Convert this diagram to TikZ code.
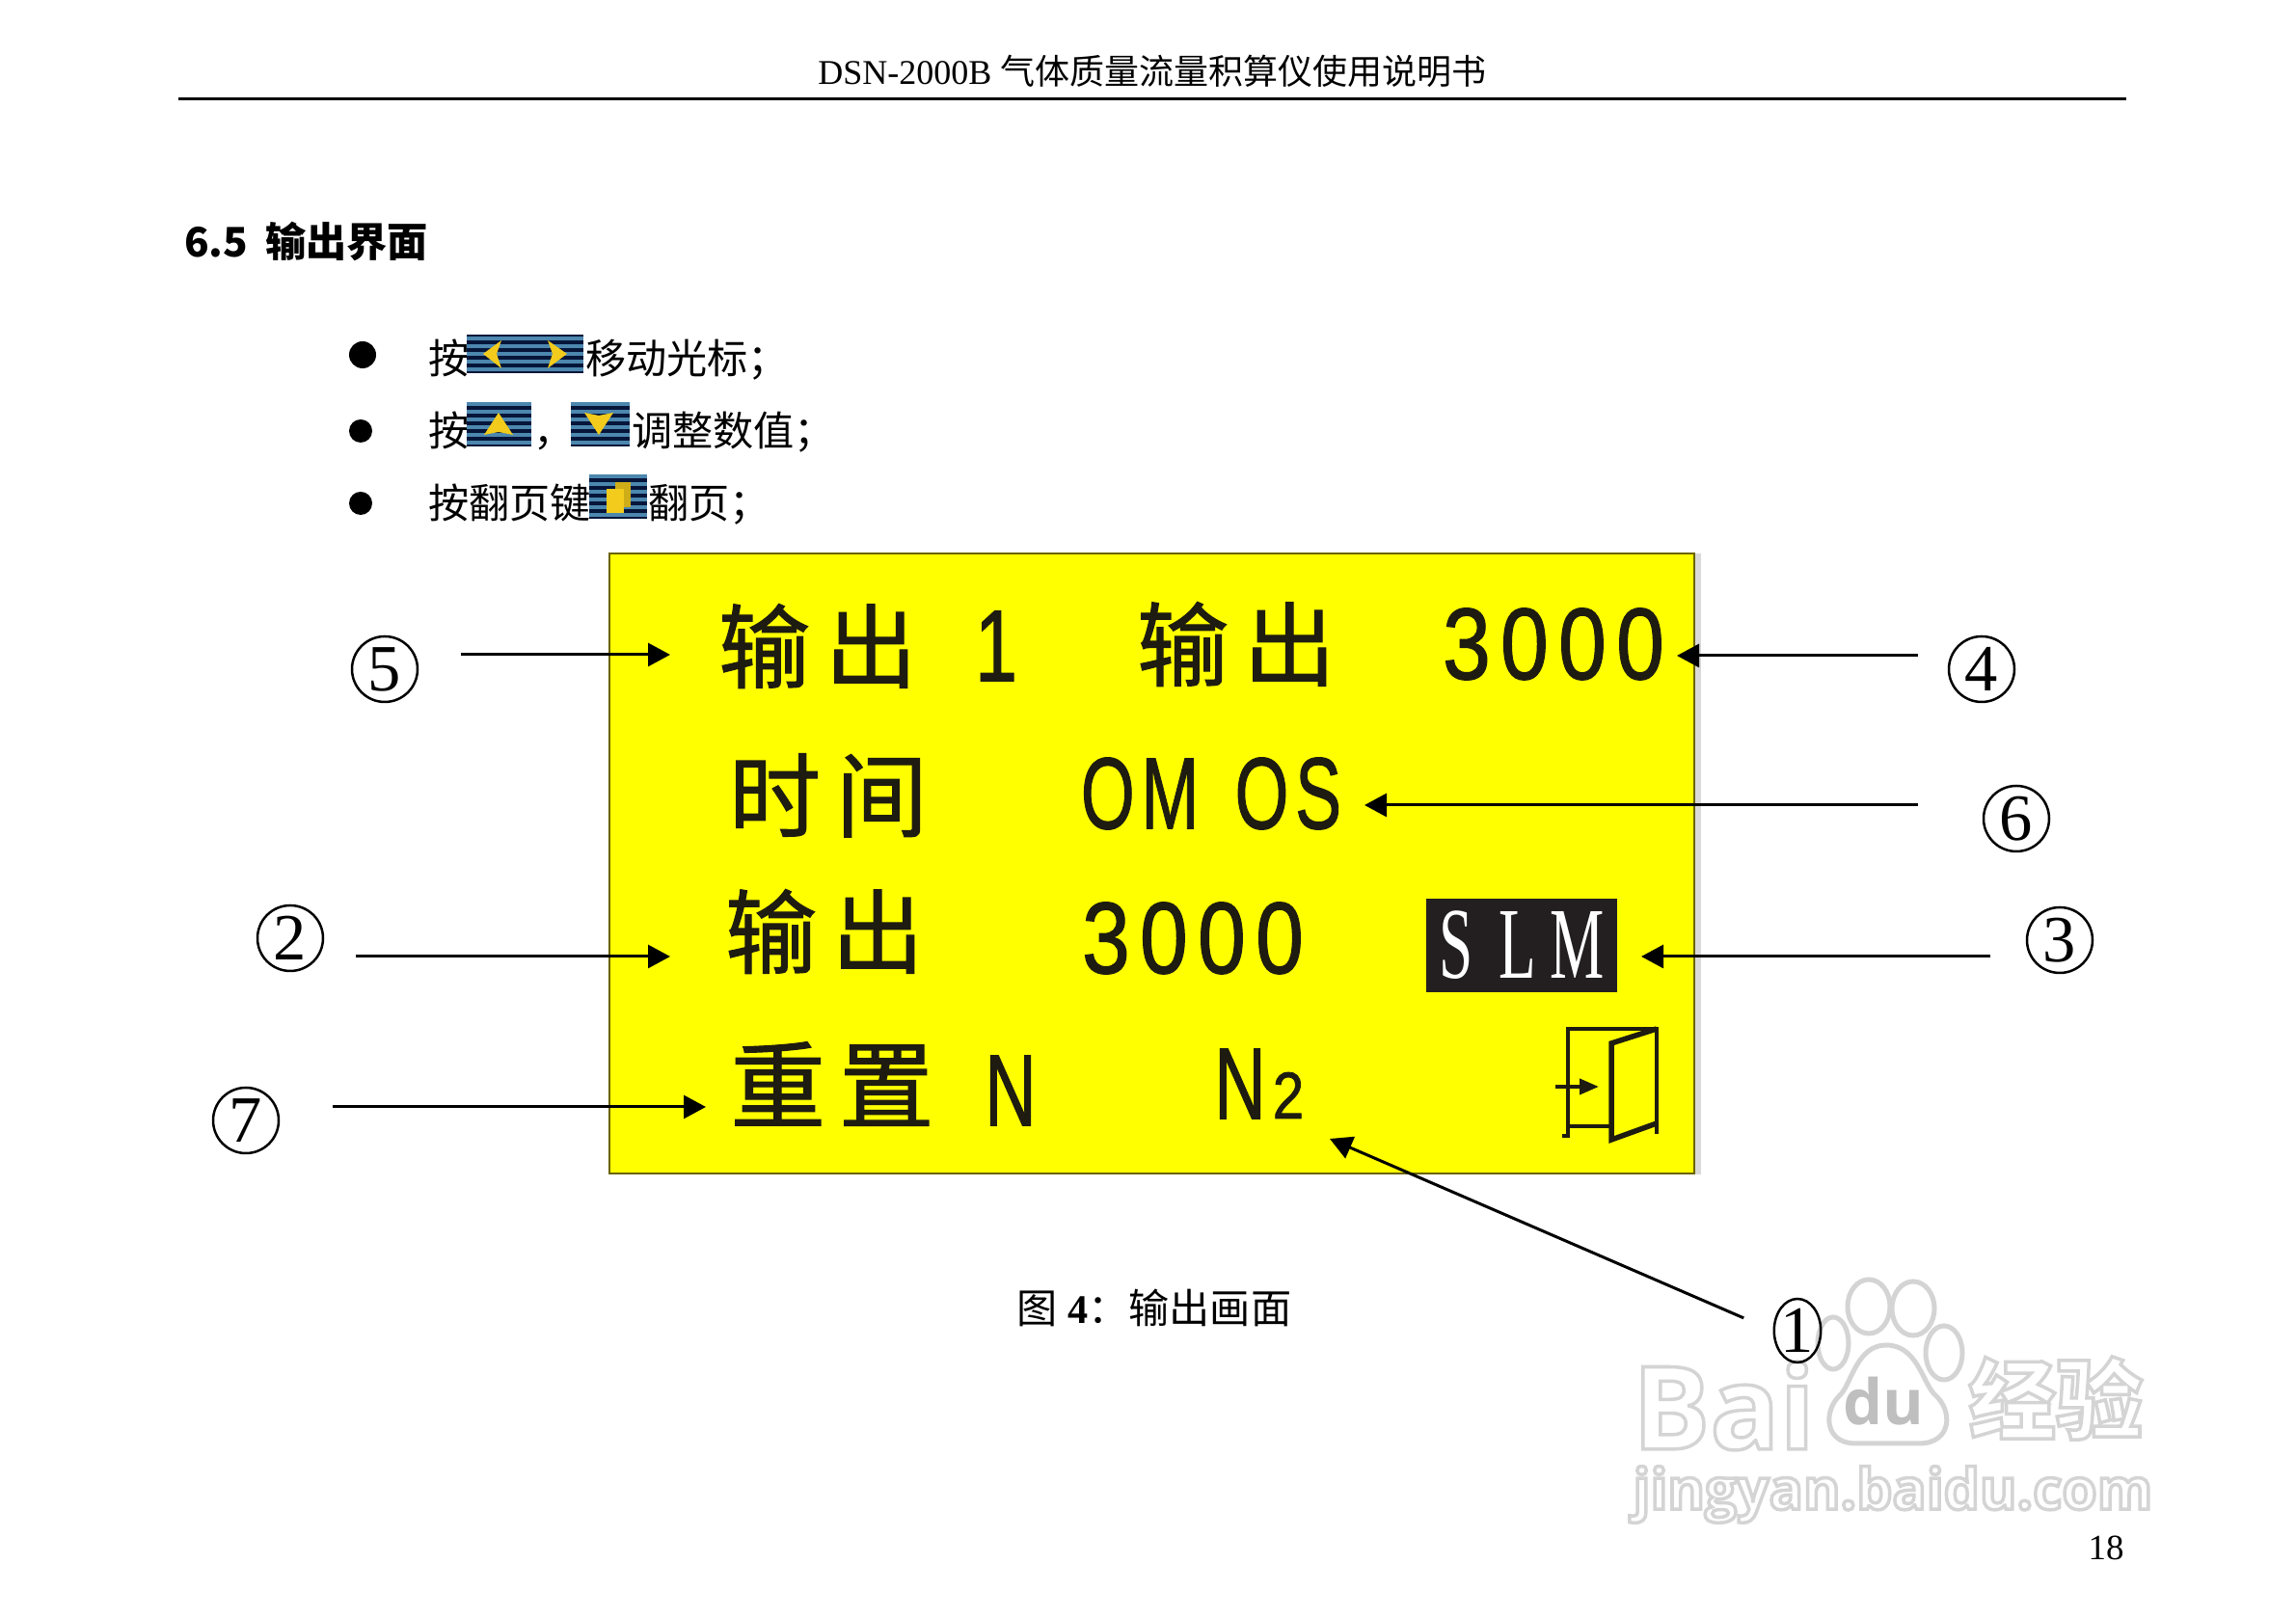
\documentclass[tikz,border=0pt]{standalone}
\usepackage{fontspec}
\usepackage{xcolor}
\usetikzlibrary{positioning,calc,shapes.geometric,arrows.meta}
\setmainfont{Liberation Serif}
\setsansfont{Liberation Sans}
\newfontfamily\cjk{Noto Sans CJK SC}
\newfontfamily\lcdcjkfont{Noto Sans CJK SC}[FakeBold=1.2]
\newfontfamily\lcdnumfont{Liberation Sans}[FakeBold=1.2]
\newfontfamily\markfont{Open Sans}
\definecolor{lcd}{HTML}{FFFF00}
\definecolor{lcdedge}{HTML}{6B6400}
\definecolor{lcdink}{HTML}{1E1C10}
\definecolor{slmbg}{HTML}{231F20}
\definecolor{keynavy}{HTML}{06163A}
\definecolor{keyblue}{HTML}{4C87AE}
\definecolor{keygold}{HTML}{F2CB1C}
\definecolor{markedge}{HTML}{D4D4D4}
\newcommand{\keybar}[4]{%
  \begin{scope}
    \clip (#1,#2) rectangle (#3,#4);
    \fill[keynavy] (#1,#2) rectangle (#3,#4);
    \foreach \sy in {0,0.8,...,4.8}{ \fill[keyblue] (#1,#2+\sy+0.15) rectangle (#3,#2+\sy+0.55); }
  \end{scope}}
\newcommand{\rimtext}{\special{pdf:literal 2 Tr 1 w 0.83 G}}
\newcommand{\rimoff}{\special{pdf:literal 0 Tr 0 w}}
\newcommand{\threek}{\scalebox{0.85}[1]{3\hspace{1.2mm}0\hspace{1.2mm}0\hspace{1.2mm}0}}
\tikzset{
  headtxt/.style = {font=\fontsize{10.25}{12}\selectfont, inner sep=0pt, outer sep=0pt},
  sectxt/.style  = {font=\fontsize{12}{14}\selectfont\cjk\bfseries, anchor=base west, inner sep=0pt, outer sep=0pt},
  body/.style    = {font=\fontsize{12}{14}\selectfont\cjk, anchor=base west, inner sep=0pt, outer sep=0pt},
  dotmark/.style = {circle, fill=black, inner sep=0pt},
  lcdcjk/.style  = {font=\fontsize{27}{30}\selectfont\lcdcjkfont, text=lcdink, inner sep=0pt, outer sep=0pt},
  lcdnum/.style  = {font=\fontsize{30}{32}\selectfont\lcdnumfont, text=lcdink, inner sep=0pt, outer sep=0pt},
  ring/.style    = {circle, draw=black, line width=0.25mm, minimum size=6.8mm, inner sep=0pt, font=\fontsize{19.5}{21}\selectfont},
  ringtall/.style= {ellipse, draw=black, line width=0.25mm, minimum width=4.6mm, minimum height=6.6mm, inner sep=0pt, font=\fontsize{19.5}{21}\selectfont},
  flow/.style    = {-{Triangle[length=2.3mm,width=2.4mm]}, draw=black, line width=0.3mm},
  door/.style    = {draw=lcdink, line width=0.4mm},
  paw/.style     = {fill=white, draw=markedge, line width=0.5mm},
  marktxt/.style = {text=white, inner sep=0pt, outer sep=0pt},
}
\begin{document}
\begin{tikzpicture}[x=1mm,y=1mm]
\path[use as bounding box, fill=white] (0,0) rectangle (238.1,167.8);

% ---- page head ----------------------------------------------------------
\node[headtxt] (head) at (119.5,160.4) {DSN-2000B {\cjk 气体质量流量积算仪使用说明书}};
\draw[line width=0.3mm] (18.5,157.5) -- (220.5,157.5);
\node[sectxt] (sect) at (19.1,141.15) {6.5\hspace{1.8mm}输出界面};

% ---- key hints ----------------------------------------------------------
\node[dotmark, minimum size=2.8mm] (dota) at (37.6,131.0) {};
\node[dotmark, minimum size=2.4mm] (dotb) at (37.4,123.1) {};
\node[dotmark, minimum size=2.4mm] (dotc) at (37.4,115.6) {};

\node[body] (ana) at (44.4,129.05) {按};
\keybar{48.4}{129.1}{60.5}{133.1}
\fill[keygold] (50.1,131.1) -- (52.0,132.5) -- (51.5,131.1) -- (52.0,129.6) -- cycle;
\fill[keygold] (58.8,131.1) -- (56.8,132.5) -- (57.3,131.1) -- (56.8,129.6) -- cycle;
\node[body] (move) at (60.7,129.05) {移动光标；};

\node[body] (anb) at (44.4,121.55) {按};
\keybar{48.4}{121.5}{55.1}{126.1}
\fill[keygold] (51.7,125.0) -- (53.2,122.7) -- (51.7,123.0) -- (50.2,122.7) -- cycle;
\node[body] (comma) at (55.3,121.55) {，};
\keybar{59.2}{121.5}{65.3}{126.1}
\fill[keygold] (62.1,122.7) -- (63.6,125.0) -- (62.1,124.7) -- (60.6,125.0) -- cycle;
\node[body] (tune) at (65.5,121.55) {调整数值；};

\node[body] (anc) at (44.4,114.05) {按翻页键};
\keybar{61.1}{114.0}{67.1}{118.6}
\fill[keygold!85!black] (63.8,115.2) rectangle (65.4,117.8);
\fill[keygold] (62.9,114.6) rectangle (64.7,117.1);
\node[body] (page) at (67.2,114.05) {翻页；};

% ---- display ------------------------------------------------------------
\fill[black!15] (175.7,46.0) rectangle (176.4,110.4);
\draw[fill=lcd, draw=lcdedge, line width=0.25mm] (63.2,46.1) rectangle (175.7,110.4);

\node[lcdcjk] (outa) at (84.8,100.8) {输\hspace{1.6mm}出};
\node[lcdnum] (chan) at (103.3,100.8) {\scalebox{0.75}[1]{1}};
\node[lcdcjk] (outb) at (128.2,101.0) {输\hspace{1.6mm}出};
\node[lcdnum] (vala) at (161.1,101.0) {\threek};

\node[lcdcjk] (timelab) at (85.9,85.3) {时\hspace{1.6mm}间};
\node[lcdnum] (timeval) at (125.6,85.5) {\scalebox{0.68}[1]{O\hspace{1mm}M\hspace{5.5mm}O\hspace{1mm}S}};

\node[lcdcjk] (outc) at (85.5,71.2) {输\hspace{1.6mm}出};
\node[lcdnum] (valb) at (123.7,70.5) {\threek};
\node[minimum width=19.8mm, minimum height=9.7mm, fill=slmbg, text=white, inner sep=0pt,
  font=\fontsize{30}{32}\selectfont] (slm) at (157.8,69.75) {\scalebox{0.6}[1]{S\hspace{4.4mm}L\hspace{2.4mm}M}};

\node[lcdcjk, font=\fontsize{28}{30}\selectfont\lcdcjkfont] (reset) at (86.3,55.4) {重\hspace{1.4mm}置};
\node[lcdnum] (resetval) at (104.8,54.7) {\scalebox{0.7}[1]{N}};
\node[lcdnum] (gasn) at (128.6,55.4) {\scalebox{0.7}[1]{N}};
\node[lcdnum, font=\fontsize{19.5}{21}\selectfont\lcdnumfont] (gastwo) at (133.6,54.2) {\scalebox{0.85}[1]{2}};

% door
\draw[door] (162.0,50.0) -- (162.6,50.0) -- (162.6,61.1) -- (171.8,61.1) -- (171.8,50.2);
\draw[door, line width=0.55mm] (171.8,51.3) -- (167.1,49.6) -- (167.1,59.6) -- (171.8,61.1);
\draw[door] (162.6,51.0) -- (167.1,51.0);
\draw[door, -{Triangle[length=2mm,width=1.6mm]}] (161.3,55.1) -- (165.8,55.1);

% ---- caption, page number -----------------------------------------------
\node[font=\fontsize{12}{14}\selectfont, inner sep=0pt] (capt) at (119.7,32.2) {{\cjk 图} \textbf{4}{\cjk ：输出画面}};
\node[font=\fontsize{10.5}{12}\selectfont, inner sep=0pt] (folio) at (218.4,7.3) {18};

% ---- watermark ----------------------------------------------------------
\node[marktxt, anchor=west, font=\fontsize{34}{36}\selectfont\markfont\bfseries] (bai) at (169.3,22.0) {\rimtext Bai\rimoff};
\draw[paw] (190.1,28.5) ellipse (1.6 and 2.7);
\draw[paw] (193.8,32.3) ellipse (2.2 and 2.8);
\draw[paw] (198.4,32.1) ellipse (2.2 and 2.8);
\draw[paw] (201.6,27.5) ellipse (1.9 and 2.8);
\draw[paw] (195.6,28.3) .. controls (192.6,28.3) and (192.0,24.4) .. (190.9,23.2)
  .. controls (189,21.5) and (189.2,18.1) .. (192.4,18.1) -- (199.0,18.1)
  .. controls (202.4,18.1) and (202.6,21.5) .. (200.6,23.2)
  .. controls (199.4,24.4) and (198.8,28.3) .. (195.6,28.3) -- cycle;
\node[text=black!25, inner sep=0pt, font=\fontsize{18.5}{20}\selectfont\markfont\bfseries] (du) at (195.3,22.5) {du};
\node[marktxt, font=\fontsize{25.7}{28}\selectfont\cjk\bfseries] (jing) at (213.2,22.8) {\rimtext 经验\rimoff};
\node[marktxt, font=\fontsize{16.7}{18}\selectfont\markfont\bfseries] (url) at (196.3,12.8) {\rimtext jingyan.baidu.com\rimoff};

% ---- callouts -----------------------------------------------------------
\node[ring] (nfive)  at (39.9,98.4)  {5};
\node[ring] (nfour)  at (205.5,98.4) {4};
\node[ring] (nsix)   at (209.1,82.9) {6};
\node[ring] (ntwo)   at (30.1,70.5)  {2};
\node[ring] (nthree) at (213.6,70.3) {3};
\node[ring] (nseven) at (25.5,51.6)  {7};
\node[ringtall] (none) at (186.4,29.8) {1};

\coordinate (tfive)  at (69.5,99.9);
\coordinate (tfour)  at (173.9,99.8);
\coordinate (tsix)   at (141.5,84.3);
\coordinate (ttwo)   at (69.5,68.6);
\coordinate (tthree) at (170.2,68.6);
\coordinate (tseven) at (73.2,53.0);
\coordinate (tone)   at (137.9,49.7);

\draw[flow, shorten <=4.4mm] (nfive.east |- tfive) -- (tfive);
\draw[flow, shorten <=3.1mm] (nfour.west |- tfour) -- (tfour);
\draw[flow, shorten <=6.7mm] (nsix.west |- tsix) -- (tsix);
\draw[flow, shorten <=3.3mm] (ntwo.east |- ttwo) -- (ttwo);
\draw[flow, shorten <=3.7mm] (nthree.west |- tthree) -- (tthree);
\draw[flow, shorten <=5.5mm] (nseven.east |- tseven) -- (tseven);
\draw[flow, shorten <=3.3mm] (none.west) -- (tone);

\end{tikzpicture}
\end{document}
